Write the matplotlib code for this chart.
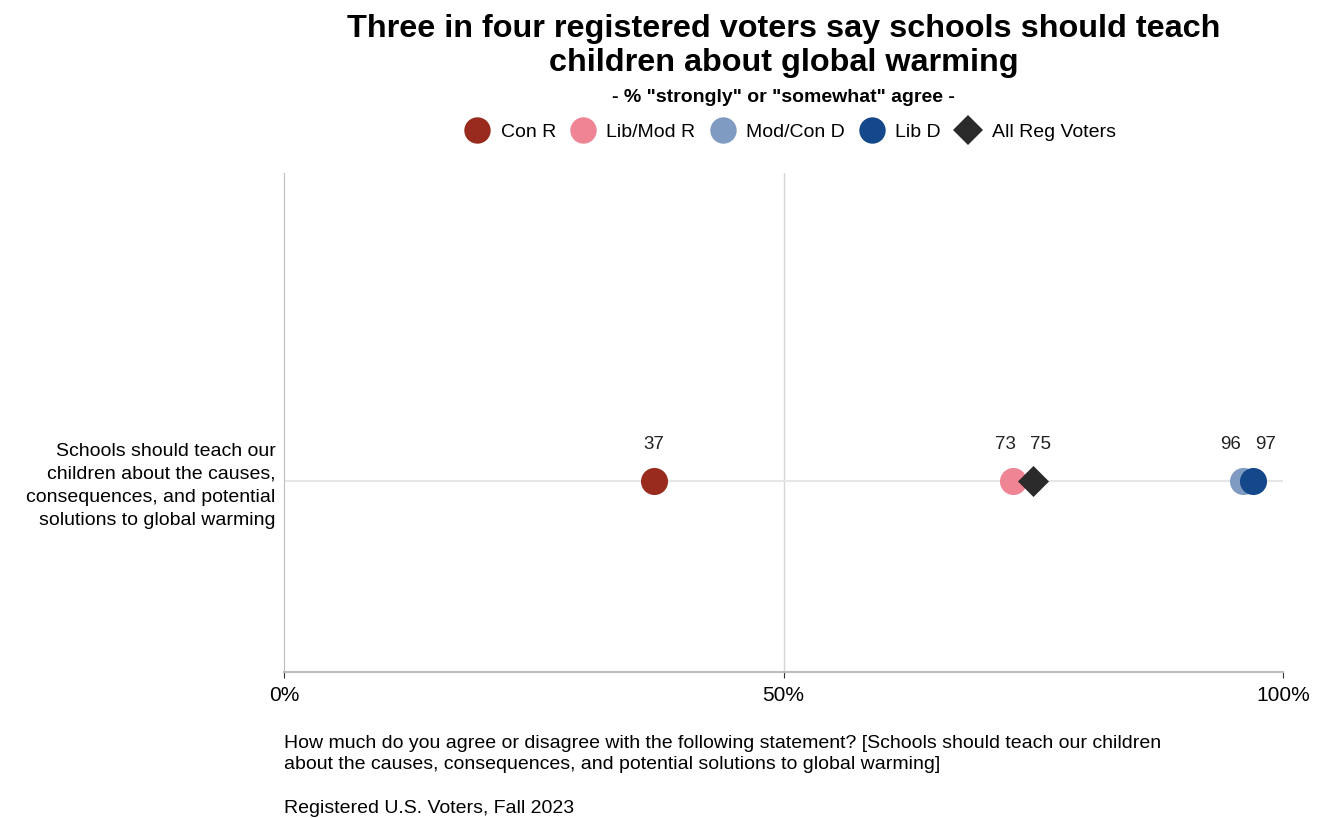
import matplotlib
matplotlib.use("Agg")
import matplotlib.pyplot as plt
from matplotlib.lines import Line2D

plt.rcParams['font.family'] = ['Liberation Sans', 'DejaVu Sans']

# data
groups = ['Con R', 'Lib/Mod R', 'Mod/Con D', 'Lib D', 'All Reg Voters']
values = [37, 73, 96, 97, 75]
colors = ['#992A1E', '#EF8494', '#7F9BC1', '#15488A', '#2A2A2A']
markers = ['o', 'o', 'o', 'o', 'D']
statement = ('Schools should teach our\nchildren about the causes,\n'
             'consequences, and potential\nsolutions to global warming')

fig = plt.figure(figsize=(13.2, 8.18), dpi=100)
ax = fig.add_axes([0.2152, 0.1785, 0.7568, 0.61])

ax.set_xlim(0, 100)
ax.set_ylim(-0.383, 0.617)

# grid lines
ax.axvline(50, color='#d6d6d6', lw=1, zorder=0)
ax.axhline(0, color='#e6e6e6', lw=1.5, zorder=0)

for g, v, c, m in zip(groups, values, colors, markers):
    if m == 'D':
        ax.scatter(v, 0, s=250, marker='D', color=c, zorder=4, linewidths=0)
    else:
        ax.scatter(v, 0, s=380, marker='o', color=c, zorder=3, linewidths=0)

# value labels, nudged apart when close together
order = sorted(range(len(values)), key=lambda i: values[i])
label_x = [float(values[i]) for i in order]
for _ in range(20):
    for k in range(len(label_x) - 1):
        gap = label_x[k + 1] - label_x[k]
        if gap < 3.5:
            shift = (3.5 - gap) / 2
            label_x[k] -= shift
            label_x[k + 1] += shift
for k, i in enumerate(order):
    ax.text(label_x[k], 0.055, str(values[i]), ha='center', va='bottom',
            fontsize=13.5, color='#222222')

ax.set_yticks([0])
ax.set_yticklabels([statement], fontsize=14, ha='right', linespacing=1.45)
ax.tick_params(axis='y', length=0, pad=6)
ax.set_xticks([0, 50, 100])
ax.set_xticklabels(['0%', '50%', '100%'], fontsize=15)
ax.tick_params(axis='x', length=4, color='#333333', pad=6)

for s in ['top', 'right']:
    ax.spines[s].set_visible(False)
ax.spines['left'].set_color('#bdbdbd')
ax.spines['bottom'].set_color('#bdbdbd')
ax.spines['bottom'].set_linewidth(1.5)

# titles
cx = 0.5935
fig.text(cx, 0.983, 'Three in four registered voters say schools should teach\nchildren about global warming',
         ha='center', va='top', fontsize=23.3, fontweight='bold', linespacing=1.17)
fig.text(cx, 0.881, '- % "strongly" or "somewhat" agree -', ha='center', va='center',
         fontsize=14, fontweight='bold')

handles = []
for g, c, m in zip(groups, colors, markers):
    handles.append(Line2D([], [], ls='', marker=m, color=c, markeredgewidth=0,
                          markersize=19 if m == 'o' else 15, label=g))
fig.legend(handles=handles, loc='center', bbox_to_anchor=(0.599, 0.839), ncol=5,
           frameon=False, fontsize=14, handletextpad=0.6, columnspacing=0.8,
           handlelength=1.2)

# caption
fig.text(0.2152, 0.102, 'How much do you agree or disagree with the following statement? [Schools should teach our children\n'
         'about the causes, consequences, and potential solutions to global warming]',
         ha='left', va='top', fontsize=14, linespacing=1.35)
fig.text(0.2152, 0.022, 'Registered U.S. Voters, Fall 2023', ha='left', va='top', fontsize=14)

fig.savefig('out.png', dpi=100)
